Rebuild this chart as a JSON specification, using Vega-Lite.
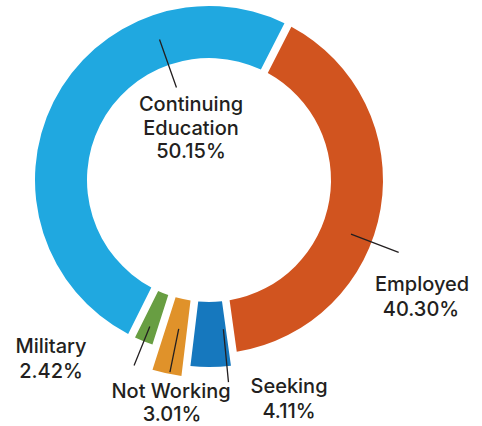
{
  "$schema": "https://vega.github.io/schema/vega-lite/v6.json",
  "autosize": "none",
  "width": 418,
  "height": 360,
  "padding": {"left": 0, "top": 0, "right": 64, "bottom": 66},
  "background": "white",
  "config": {"view": {"stroke": null}, "text": {"font": "Inter", "fontSize": 20, "fontWeight": 500, "fill": "#231f20"}},
  "data": {"values": [
    {"idx": 1, "name": "Employed", "share": 0.4030},
    {"idx": 2, "name": "Seeking", "share": 0.0411},
    {"idx": 3, "name": "Not Working", "share": 0.0301},
    {"idx": 4, "name": "Military", "share": 0.0242},
    {"idx": 5, "name": "Continuing Education", "share": 0.5015}
  ]},
  "transform": [
    {"stack": "share", "groupby": [], "sort": [{"field": "idx"}], "as": ["s0", "s1"]}
  ],
  "encoding": {
    "theta": {"field": "s0", "type": "quantitative", "stack": null, "scale": {"domain": [0, 1], "range": [0.47124, 6.75442]}}
  },
  "layer": [
    {
      "transform": [{"filter": {"not": {"field": "name", "oneOf": ["Seeking", "Not Working"]}}}],
      "mark": {"type": "arc", "innerRadius": 122, "outerRadius": 174, "padAngle": 0.036},
      "encoding": {
        "theta2": {"field": "s1"},
        "color": {"field": "name", "type": "nominal", "legend": null,
          "scale": {"domain": ["Employed", "Seeking", "Not Working", "Military", "Continuing Education"],
                    "range": ["#d1541f", "#1678be", "#e0922a", "#689e42", "#20a8e0"]}}
      }
    },
    {
      "transform": [{"filter": {"field": "name", "equal": "Seeking"}}],
      "mark": {"type": "arc", "innerRadius": 122, "outerRadius": 187, "padAngle": 0.0345},
      "encoding": {"theta2": {"field": "s1"}, "color": {"field": "name", "type": "nominal", "legend": null}}
    },
    {
      "transform": [{"filter": {"field": "name", "equal": "Not Working"}}],
      "mark": {"type": "arc", "innerRadius": 122, "outerRadius": 198, "padAngle": 0.0335},
      "encoding": {"theta2": {"field": "s1"}, "color": {"field": "name", "type": "nominal", "legend": null}}
    },
    {
      "transform": [{"filter": {"field": "name", "equal": "Continuing Education"}}],
      "mark": {"type": "arc", "innerRadius": 98, "outerRadius": 149, "thetaOffset": 2.3419, "theta2Offset": 2.3419, "fill": null, "stroke": "#231f20", "strokeWidth": 1.3},
      "encoding": {"theta2": {"field": "s0"}}
    },
    {
      "transform": [{"filter": {"field": "name", "equal": "Employed"}}],
      "mark": {"type": "arc", "innerRadius": 152, "outerRadius": 203, "thetaOffset": 1.4643, "theta2Offset": 1.4643, "fill": null, "stroke": "#231f20", "strokeWidth": 1.3},
      "encoding": {"theta2": {"field": "s0"}}
    },
    {
      "transform": [{"filter": {"field": "name", "equal": "Seeking"}}],
      "mark": {"type": "arc", "innerRadius": 150, "outerRadius": 203, "thetaOffset": 0.0422, "theta2Offset": 0.0422, "fill": null, "stroke": "#231f20", "strokeWidth": 1.3},
      "encoding": {"theta2": {"field": "s0"}}
    },
    {
      "transform": [{"filter": {"field": "name", "equal": "Not Working"}}],
      "mark": {"type": "arc", "innerRadius": 152, "outerRadius": 196, "thetaOffset": 0.0806, "theta2Offset": 0.0806, "fill": null, "stroke": "#231f20", "strokeWidth": 1.3},
      "encoding": {"theta2": {"field": "s0"}}
    },
    {
      "transform": [{"filter": {"field": "name", "equal": "Military"}}],
      "mark": {"type": "arc", "innerRadius": 158, "outerRadius": 200, "thetaOffset": 0.0749, "theta2Offset": 0.0749, "fill": null, "stroke": "#231f20", "strokeWidth": 1.3},
      "encoding": {"theta2": {"field": "s0"}}
    },
    {
      "transform": [{"filter": {"field": "name", "equal": "Continuing Education"}}],
      "mark": {"type": "text", "radius": 77.1, "thetaOffset": 2.4449, "lineBreak": " ", "lineHeight": 24, "align": "center", "baseline": "middle"},
      "encoding": {"text": {"field": "name"}}
    },
    {
      "transform": [{"filter": {"field": "name", "equal": "Continuing Education"}}],
      "mark": {"type": "text", "radius": 33.3, "thetaOffset": 2.1091, "align": "center", "baseline": "middle"},
      "encoding": {"text": {"field": "share", "format": ".2%"}}
    },
    {
      "transform": [{"filter": {"field": "name", "equal": "Employed"}}],
      "mark": {"type": "text", "radius": 237.5, "thetaOffset": 1.5575, "align": "center", "baseline": "middle"},
      "encoding": {"text": {"field": "name"}}
    },
    {
      "transform": [{"filter": {"field": "name", "equal": "Employed"}}],
      "mark": {"type": "text", "radius": 248.7, "thetaOffset": 1.6497, "align": "center", "baseline": "middle"},
      "encoding": {"text": {"field": "share", "format": ".2%"}}
    },
    {
      "transform": [{"filter": {"field": "name", "equal": "Seeking"}}],
      "mark": {"type": "text", "radius": 221.9, "thetaOffset": -0.2306, "align": "center", "baseline": "middle"},
      "encoding": {"text": {"field": "name"}}
    },
    {
      "transform": [{"filter": {"field": "name", "equal": "Seeking"}}],
      "mark": {"type": "text", "radius": 245.4, "thetaOffset": -0.1939, "align": "center", "baseline": "middle"},
      "encoding": {"text": {"field": "share", "format": ".2%"}}
    },
    {
      "transform": [{"filter": {"field": "name", "equal": "Not Working"}}],
      "mark": {"type": "text", "radius": 215.4, "thetaOffset": 0.0572, "align": "center", "baseline": "middle"},
      "encoding": {"text": {"field": "name"}}
    },
    {
      "transform": [{"filter": {"field": "name", "equal": "Not Working"}}],
      "mark": {"type": "text", "radius": 237.9, "thetaOffset": 0.0361, "align": "center", "baseline": "middle"},
      "encoding": {"text": {"field": "share", "format": ".2%"}}
    },
    {
      "transform": [{"filter": {"field": "name", "equal": "Military"}}],
      "mark": {"type": "text", "radius": 229.9, "thetaOffset": 0.4484, "align": "center", "baseline": "middle"},
      "encoding": {"text": {"field": "name"}}
    },
    {
      "transform": [{"filter": {"field": "name", "equal": "Military"}}],
      "mark": {"type": "text", "radius": 248.7, "thetaOffset": 0.3794, "align": "center", "baseline": "middle"},
      "encoding": {"text": {"field": "share", "format": ".2%"}}
    }
  ]
}
